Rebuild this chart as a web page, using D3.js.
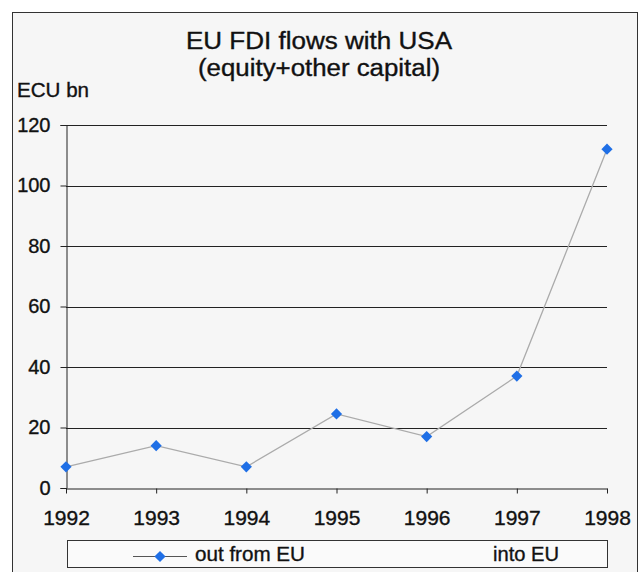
<!DOCTYPE html>
<html><head><meta charset="utf-8">
<script src="https://cdn.jsdelivr.net/npm/d3@7"></script>
<style>body{margin:0;background:#fff;}svg{display:block;font-family:"Liberation Sans",Arial,sans-serif;}</style>
</head><body>
<script>
const years = [1992, 1993, 1994, 1995, 1996, 1997, 1998];
const outFromEU = [7, 14, 7, 24.5, 17, 37, 112];
const yTicks = [0, 20, 40, 60, 80, 100, 120];
const seriesNames = ["out from EU", "into EU"];
const titleLines = ["EU FDI flows with USA", "(equity+other capital)"];
const yLabel = "ECU bn";

const W = 643, H = 572;
const FONT = "Liberation Sans, Arial, sans-serif";
const svg = d3.select("body").append("svg").attr("width", W).attr("height", H);
svg.append("rect").attr("width", W).attr("height", H).attr("fill", "#fff");
svg.append("rect").attr("x", 12.5).attr("y", 12.5).attr("width", 625).attr("height", 570)
  .attr("fill", "#f6f6f6").attr("stroke", "#333").attr("stroke-width", 1);

const x = d3.scalePoint().domain(years).range([66, 607]);
const y = d3.scaleLinear().domain([0, 120]).range([488, 125]);

function heavy(sel) { return sel.attr("stroke", "#111").attr("stroke-width", 0.35).attr("fill", "#111"); }

// title
heavy(svg.selectAll("text.title").data(titleLines).join("text").attr("class", "title")
  .attr("x", 319).attr("y", (d, i) => 49 + i * 27).attr("text-anchor", "middle")
  .attr("font-size", 23).attr("textLength", (d, i) => i === 0 ? 266 : 242)
  .attr("lengthAdjust", "spacingAndGlyphs").text(d => d));
heavy(svg.append("text").attr("x", 17).attr("y", 97).attr("font-size", 20)
  .attr("textLength", 72).attr("lengthAdjust", "spacingAndGlyphs").text(yLabel));

// gridlines
svg.append("g").selectAll("line").data(yTicks.filter(d => d > 0)).join("line")
  .attr("x1", 66).attr("x2", 607).attr("y1", d => Math.round(y(d)) + 0.5).attr("y2", d => Math.round(y(d)) + 0.5)
  .attr("stroke", "#222").attr("stroke-width", 1);

// y axis
const yAxis = svg.append("g").attr("transform", "translate(66.5,0)")
  .call(d3.axisLeft(y).tickValues(yTicks).tickSize(6).tickPadding(10).tickFormat(d3.format("d")));
yAxis.select(".domain").attr("stroke", "#222");
yAxis.selectAll(".tick line").attr("stroke", "#222");
heavy(yAxis.selectAll("text").attr("font-size", 20).attr("font-family", FONT));

// x axis
const xAxis = svg.append("g").attr("transform", "translate(0," + (Math.round(y(0)) + 0.5) + ")")
  .call(d3.axisBottom(x).tickSize(5).tickPadding(17).tickSizeOuter(0));
xAxis.select(".domain").attr("stroke", "#222");
xAxis.selectAll(".tick line").attr("stroke", "#222");
heavy(xAxis.selectAll("text").attr("font-size", 21).attr("font-family", FONT));

// line
const data = years.map((yr, i) => ({yr, v: outFromEU[i]}));
svg.append("path").datum(data)
  .attr("d", d3.line().x(d => x(d.yr)).y(d => y(d.v)))
  .attr("fill", "none").attr("stroke", "#ababab").attr("stroke-width", 1.3);

const diamond = d3.symbol().type(d3.symbolDiamond2).size(80);
svg.append("g").selectAll("path").data(data).join("path")
  .attr("transform", d => `translate(${x(d.yr)},${y(d.v)})`)
  .attr("d", diamond).attr("fill", "#1f6fe6");

// legend
svg.append("rect").attr("x", 67.5).attr("y", 540.5).attr("width", 540).attr("height", 27)
  .attr("fill", "#fafafa").attr("stroke", "#333");
svg.append("line").attr("x1", 133).attr("x2", 187).attr("y1", 556.5).attr("y2", 556.5).attr("stroke", "#555").attr("stroke-width", 1.2);
svg.append("path").attr("transform", "translate(160,556.5)").attr("d", diamond).attr("fill", "#1f6fe6");
heavy(svg.append("text").attr("x", 195).attr("y", 561).attr("font-size", 20)
  .attr("textLength", 110).attr("lengthAdjust", "spacingAndGlyphs").text(seriesNames[0]));
heavy(svg.append("text").attr("x", 493).attr("y", 561).attr("font-size", 20)
  .attr("textLength", 66).attr("lengthAdjust", "spacingAndGlyphs").text(seriesNames[1]));
</script>
</body></html>
